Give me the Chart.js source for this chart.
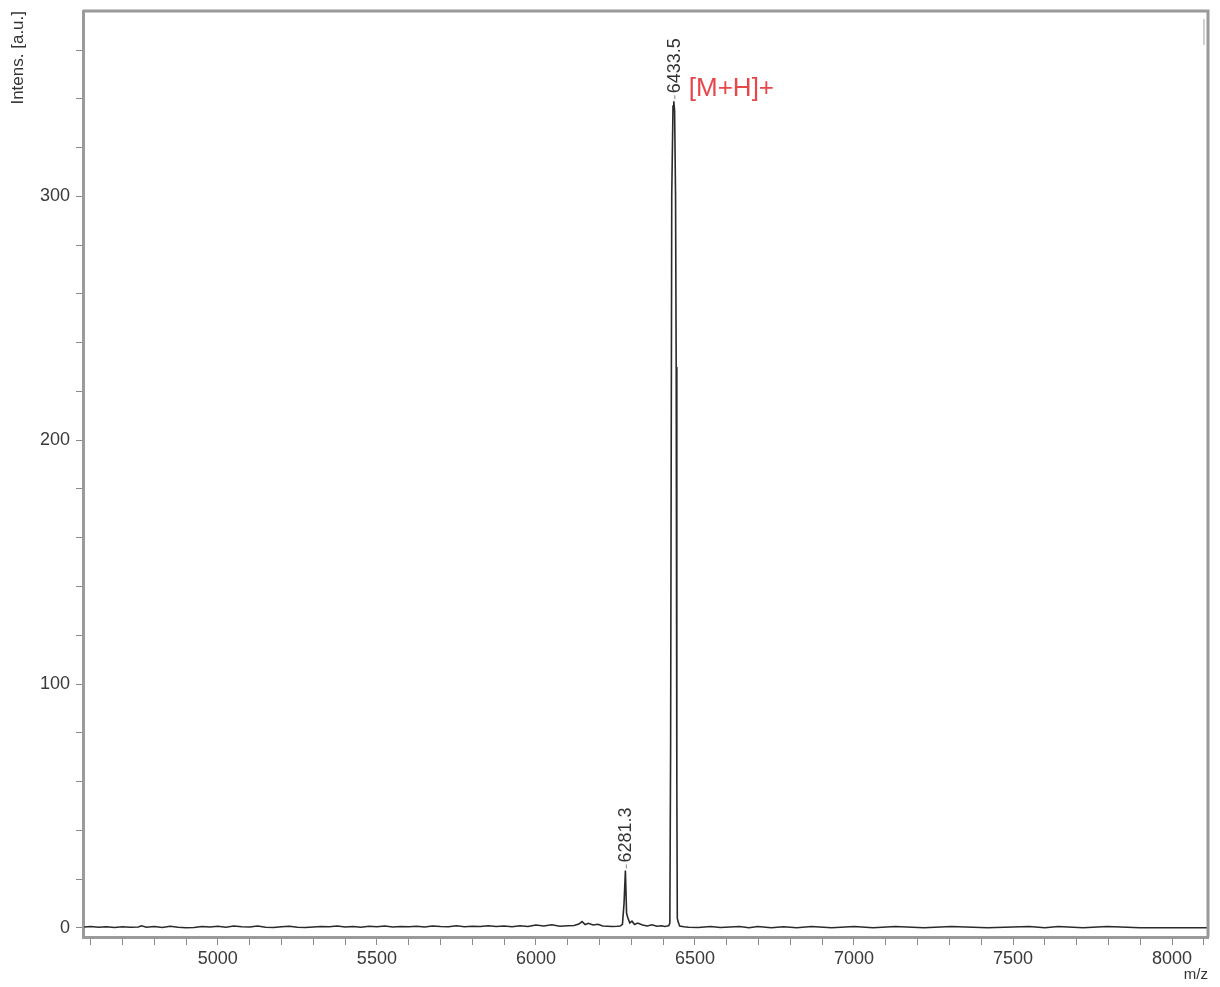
<!DOCTYPE html>
<html>
<head>
<meta charset="utf-8">
<script src="https://cdn.jsdelivr.net/npm/chart.js@4"></script>
<style>
    body { margin: 0; background: #fff; }
    #wrap { width: 1220px; height: 987px; position: relative; }
</style>
</head>
<body>
<div id="wrap"><canvas id="espectro"></canvas></div>
<script>
// spectrum (m/z, intensity in a.u.)
const mz = [
    4580, 4600, 4625, 4650, 4675, 4700, 4725, 4750, 4760, 4775, 4800, 4825, 4850, 4875, 4900, 4925, 4950, 4975,
    5000, 5025, 5050, 5075, 5100, 5125, 5150, 5175, 5200, 5225, 5250, 5275, 5300, 5325, 5350, 5375, 5400, 5425,
    5450, 5475, 5500, 5525, 5550, 5575, 5600, 5625, 5650, 5675, 5700, 5725, 5750, 5775, 5800, 5825, 5850, 5875,
    5900, 5925, 5950, 5975, 6000, 6025, 6050, 6075, 6100, 6120, 6135, 6145, 6155, 6165, 6180, 6195, 6210, 6225,
    6240, 6255, 6265, 6272, 6277, 6281.3, 6285, 6289, 6295, 6302, 6310, 6320, 6335, 6350, 6365, 6380, 6395, 6405,
    6413, 6418, 6421, 6423.5, 6427, 6431, 6433.5, 6436, 6439, 6441, 6442.5, 6443.5, 6444.5, 6447, 6452, 6465, 6480,
    6510, 6549, 6580, 6640, 6670, 6697, 6740, 6778, 6820, 6866, 6930, 7001, 7060, 7130, 7220, 7306, 7420, 7551,
    7600, 7642, 7720, 7796, 7900, 8000, 8113
];
const intensidad = [
    0.4, 0.6, 0.3, 0.5, 0.2, 0.5, 0.3, 0.4, 0.9, 0.3, 0.6, 0.2, 0.7, 0.3, 0.1, 0.2, 0.6, 0.4,
    0.7, 0.3, 0.8, 0.5, 0.4, 0.8, 0.3, 0.2, 0.5, 0.7, 0.3, 0.2, 0.4, 0.6, 0.5, 0.8, 0.4, 0.6,
    0.3, 0.7, 0.5, 0.8, 0.4, 0.6, 0.5, 0.7, 0.4, 0.8, 0.6, 0.5, 0.9, 0.5, 0.7, 0.6, 0.9, 0.6,
    0.8, 0.5, 0.9, 0.6, 1.2, 0.8, 1.3, 0.7, 0.9, 1.0, 1.6, 2.6, 1.4, 1.9, 1.2, 1.5, 0.8, 0.7,
    0.6, 0.7, 0.8, 1.5, 10, 23.6, 6, 4.2, 2.1, 2.8, 1.4, 2.0, 1.2, 0.8, 1.3, 0.7, 0.9, 0.6,
    0.8, 1.0, 2, 75, 300, 337, 339, 335, 300, 230, 167, 60, 4, 2.5, 0.8, 0.5, 0.3,
    0.2, 0.6, 0.2, 0.6, 0.1, 0.6, 0.1, 0.5, 0.1, 0.6, 0.1, 0.6, 0.1, 0.6, 0.1, 0.6, 0.1, 0.6,
    0.1, 0.6, 0.1, 0.6, 0.1, 0.1, 0.1
];

// labelled peaks
const picosMz = [6281.3, 6433.5];
const picosIntensidad = [23.6, 339];
const picosEtiqueta = ['6281.3', '6433.5'];
const etiquetaIon = '[M+H]+';

// axes
const xMin = 4576, xMax = 8113;
const yMin = -3.7, yMax = 376;
const xTickLabels = [5000, 5500, 6000, 6500, 7000, 7500, 8000];
const yTickLabels = [0, 100, 200, 300];

const fuente = '"Liberation Sans", Arial, sans-serif';
Chart.defaults.font.family = fuente;

const marcoPlugin = {
    id: 'marco',
    afterDraw(chart) {
        const { ctx, chartArea } = chart;
        ctx.save();
        ctx.strokeStyle = '#9a9a9a';
        ctx.lineWidth = 3;
        ctx.beginPath();
        ctx.moveTo(chartArea.left, chartArea.top);
        ctx.lineTo(chartArea.right, chartArea.top);
        ctx.lineTo(chartArea.right, chartArea.bottom);
        ctx.stroke();
        // small marker near top right
        ctx.strokeStyle = '#d0d0d0';
        ctx.lineWidth = 2;
        ctx.beginPath();
        ctx.moveTo(chartArea.right - 4, chartArea.top + 8);
        ctx.lineTo(chartArea.right - 4, chartArea.top + 34);
        ctx.stroke();
        ctx.restore();
    }
};

const picosPlugin = {
    id: 'picos',
    afterDatasetsDraw(chart) {
        const { ctx } = chart;
        const x = chart.scales.x;
        const y = chart.scales.y;
        ctx.save();
        picosMz.forEach(function (valor, i) {
            const px = x.getPixelForValue(valor) + 1;
            const py = y.getPixelForValue(picosIntensidad[i]);
            ctx.strokeStyle = '#888';
            ctx.lineWidth = 1;
            ctx.beginPath();
            ctx.moveTo(px, py - 2);
            ctx.lineTo(px, py - 6);
            ctx.stroke();
            ctx.save();
            ctx.translate(px, py - 8);
            ctx.rotate(-Math.PI / 2);
            ctx.font = '18px ' + fuente;
            ctx.fillStyle = '#333';
            ctx.textAlign = 'left';
            ctx.textBaseline = 'middle';
            ctx.fillText(picosEtiqueta[i], 0, 0);
            ctx.restore();
        });
        const ultimo = picosMz.length - 1;
        const ix = x.getPixelForValue(picosMz[ultimo]);
        const iy = y.getPixelForValue(picosIntensidad[ultimo]);
        ctx.font = '26px ' + fuente;
        ctx.fillStyle = '#e8474a';
        ctx.textAlign = 'left';
        ctx.textBaseline = 'middle';
        ctx.fillText(etiquetaIon, ix + 15, iy - 12);
        ctx.restore();
    }
};

function ticksCada(inicio, fin, paso) {
    const lista = [];
    for (let v = inicio; v <= fin; v += paso) {
        lista.push({ value: v });
    }
    return lista;
}

new Chart(document.getElementById('espectro'), {
    type: 'line',
    data: {
        datasets: [{
            label: 'Intens.',
            data: mz.map(function (m, i) { return { x: m, y: intensidad[i] }; }),
            borderColor: '#2a2a2a',
            borderWidth: 1.6,
            pointRadius: 0,
            tension: 0,
            fill: false
        }]
    },
    options: {
        responsive: true,
        maintainAspectRatio: false,
        animation: false,
        layout: { padding: { top: 11, right: 12, left: 0, bottom: 0 } },
        plugins: {
            legend: { display: false },
            tooltip: { enabled: false }
        },
        scales: {
            x: {
                type: 'linear',
                min: xMin,
                max: xMax,
                afterBuildTicks: function (axis) { axis.ticks = ticksCada(4600, 8100, 100); },
                afterFit: function (axis) {
                    axis.height = 50;
                    axis.paddingLeft = 0;
                    axis.paddingRight = 0;
                },
                ticks: {
                    autoSkip: false,
                    maxRotation: 0,
                    padding: 3,
                    color: '#3a3a3a',
                    font: { size: 18 },
                    callback: function (v) { return xTickLabels.includes(v) ? String(v) : ''; }
                },
                grid: { display: true, drawOnChartArea: false, tickLength: 8, tickColor: '#8a8a8a', tickWidth: 1 },
                border: { display: true, color: '#9a9a9a', width: 3 },
                title: {
                    display: true,
                    text: 'm/z',
                    align: 'end',
                    color: '#333',
                    font: { size: 15 },
                    padding: { top: 0, bottom: 3 }
                }
            },
            y: {
                type: 'linear',
                min: yMin,
                max: yMax,
                afterBuildTicks: function (axis) { axis.ticks = ticksCada(0, 360, 20); },
                afterFit: function (axis) {
                    axis.width = 83;
                    axis.paddingTop = 0;
                    axis.paddingBottom = 0;
                },
                ticks: {
                    autoSkip: false,
                    padding: 6,
                    color: '#3a3a3a',
                    font: { size: 18 },
                    callback: function (v) { return yTickLabels.includes(v) ? String(v) : ''; }
                },
                grid: { display: true, drawOnChartArea: false, tickLength: 7, tickColor: '#8a8a8a', tickWidth: 1 },
                border: { display: true, color: '#9a9a9a', width: 3 },
                title: {
                    display: true,
                    text: 'Intens. [a.u.]',
                    align: 'end',
                    color: '#333',
                    font: { size: 17 },
                    padding: { top: 8, bottom: 0 }
                }
            }
        }
    },
    plugins: [marcoPlugin, picosPlugin]
});
</script>
</body>
</html>
